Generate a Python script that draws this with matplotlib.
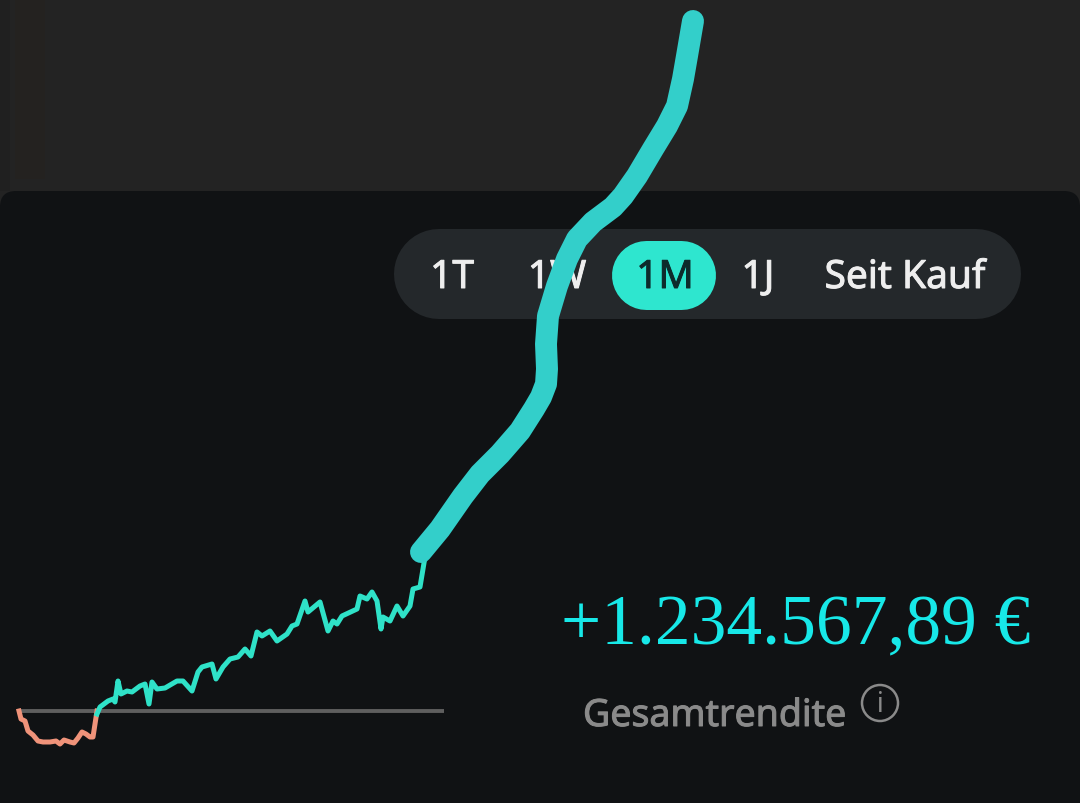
import matplotlib
matplotlib.use('Agg')
import matplotlib.pyplot as plt
import matplotlib.patheffects as pe
from matplotlib.patches import FancyBboxPatch, Circle, Rectangle

# Werte (Position im Verlauf, Rendite relativ zur Nulllinie)
loss_x = [19, 21, 25, 28, 33, 38, 43, 50, 56, 60, 64, 70, 74, 78, 82, 86, 90, 93, 95, 97]
loss_y = [0, -8, -10, -20, -24, -30, -31, -31, -30, -33, -29, -31, -32, -27, -21, -23, -26, -26, -13, 0]

gain_x = [97, 100, 108, 113, 115, 118, 121, 127, 132, 140, 145, 149, 152, 157, 165, 177, 183, 192, 198, 202,
          212, 216, 223, 230, 238, 245, 251, 257, 262, 270, 277, 287, 292, 297, 305, 308, 320, 328, 333, 337,
          342, 357, 360, 367, 372, 377, 381, 383, 390, 397, 403, 410, 413, 420, 423, 425]
gain_y = [-3, 4, 10, 12, 9, 30, 17, 20, 19, 25, 27, 7, 29, 22, 23, 30, 30, 20, 39, 44,
          47, 32, 44, 52, 54, 62, 55, 79, 75, 80, 70, 77, 85, 87, 110, 99, 109, 80, 90, 87,
          95, 102, 115, 112, 119, 110, 82, 94, 90, 105, 95, 105, 122, 124, 142, 154]

zero_x = [19, 444]
zero_y = [0, 0]

# handgezeichneter Strich
stroke_x = [421, 440, 463, 480, 500, 520, 534, 541, 546, 547, 546, 548, 557, 567, 577, 593, 613, 623, 637, 653, 667, 677, 683, 687, 693]
stroke_y = [553, 530, 497, 475, 455, 432, 410, 398, 385, 370, 345, 317, 287, 260, 240, 223, 208, 197, 177, 150, 127, 107, 80, 57, 22]

tabs = ['1T', '1W', '1M', '1J', 'Seit Kauf']
tab_pos = [452, 557, 665, 758, 905]

amount = '+1.234.567,89 €'
caption = 'Gesamtrendite'

px = 0.72  # Pixel nach Punkt bei dpi 100

fig = plt.figure(figsize=(10.8, 8.04), dpi=100, facecolor='#232323')
ax = fig.add_axes([0, 0, 1, 1])
ax.set_xlim(0, 1080)
ax.set_ylim(804, 0)
ax.axis('off')

# leichter Rand links oben
ax.add_patch(Rectangle((0, 0), 10, 192, fc='#202020', ec='none', zorder=0))
ax.add_patch(Rectangle((15, 0), 30, 180, fc='#242220', ec='none', zorder=0))

# Karte und Umschalter
ax.add_patch(FancyBboxPatch((0, 192), 1080, 640, boxstyle='round,pad=0,rounding_size=16',
                            fc='#101214', ec='none', zorder=1))
ax.plot([439, 976], [275, 275], color='#24282b', lw=90 * px, solid_capstyle='round', zorder=2)
ax.plot([646, 681], [275.5, 275.5], color='#2ee6cf', lw=69 * px, solid_capstyle='round', zorder=3)
for label, xpos in zip(tabs, tab_pos):
    col = '#0d2b2c' if label == '1M' else '#eeeeee'
    t = ax.text(xpos, 279, label, color=col, fontsize=28, family='Noto Sans',
                ha='center', va='center', zorder=4)
    t.set_path_effects([pe.withStroke(linewidth=0.7, foreground=col)])

# Verlauf
base = 712
ax.plot(zero_x, [base - v for v in zero_y], color='#5f5f5f', lw=2.8, zorder=3, solid_capstyle='butt')
ax.plot(loss_x, [base - v for v in loss_y], color='#f0937a', lw=3.6, zorder=4, solid_joinstyle='round')
ax.plot(gain_x, [base - v for v in gain_y], color='#2fe2c8', lw=3.6, zorder=4, solid_joinstyle='round')

ax.text(561, 627, amount, color='#17e8e8', fontsize=51.5, family='Liberation Serif',
        ha='left', va='center', zorder=4)
t = ax.text(583, 717, caption, color='#8a8a8a', fontsize=27, family='Noto Sans',
            ha='left', va='center', zorder=4)
t.set_path_effects([pe.withStroke(linewidth=0.7, foreground='#8a8a8a')])

# Info-Symbol
ax.add_patch(Circle((880, 704), 18, fc='none', ec='#8a8a8a', lw=1.8, zorder=4))
ax.text(880, 705, 'i', color='#8a8a8a', fontsize=19, family='Noto Sans', weight='bold',
        ha='center', va='center', zorder=4)

ax.plot(stroke_x, stroke_y, color='#33cfca', lw=15.8, solid_capstyle='round', solid_joinstyle='round', zorder=5)

fig.savefig('out.png', dpi=100, facecolor=fig.get_facecolor())
